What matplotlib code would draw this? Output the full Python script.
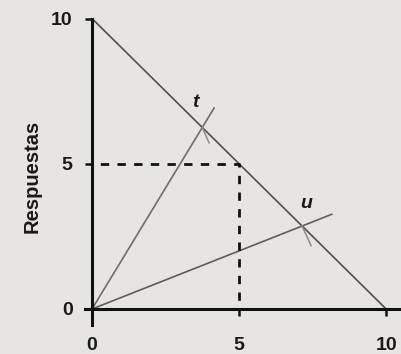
import matplotlib
matplotlib.use("Agg")
import matplotlib.pyplot as plt

# Recta de restricción y rayos de respuesta
budget_x = [0, 10]
budget_y = [10, 0]
t_x = [0, 4.15]
t_y = [0, 6.92]
u_x = [0, 8.15]
u_y = [0, 3.26]
# trazos cortos bajo cada punto de corte
t_seg_x = [3.75, 3.98]
t_seg_y = [6.25, 5.72]
u_seg_x = [7.14, 7.45]
u_seg_y = [2.86, 2.18]
# referencia discontinua en (5, 5)
ref_x = [0, 5, 5]
ref_y = [5, 5, 0]
ticks = [0, 5, 10]
tick_labels = ["0", "5", "10"]

plt.rcParams["font.family"] = ["Liberation Sans", "DejaVu Sans"]
plt.rcParams["lines.scale_dashes"] = False

bg = "#e7e5e2"
fig = plt.figure(figsize=(4.02, 3.54), dpi=100, facecolor=bg)
ax = fig.add_axes([0, 0, 1, 1], facecolor=bg)
ax.set_xlim(-3.13, 10.54)
ax.set_ylim(-1.55, 10.64)

ax.plot(budget_x, budget_y, color="#505050", lw=1.2, solid_capstyle="butt")
ax.plot(t_x, t_y, color="#6e6e6e", lw=1.2)
ax.plot(u_x, u_y, color="#5e5e5e", lw=1.2)
ax.plot(t_seg_x, t_seg_y, color="#8c8c8c", lw=1.1)
ax.plot(u_seg_x, u_seg_y, color="#8c8c8c", lw=1.1)
ax.plot(ref_x, ref_y, color="#111111", lw=2.0, linestyle=(6, (6, 6)))

ax.text(3.5, 7.1, "t", fontsize=14, fontweight="bold", style="italic",
        ha="center", va="center", color="#1a1a1a")
ax.text(7.27, 3.62, "u", fontsize=14, fontweight="bold", style="italic",
        ha="center", va="center", color="#1a1a1a")
ax.text(-2.05, 4.55, "Respuestas", rotation=90, fontsize=14.5, fontweight="bold",
        ha="center", va="center", color="#1a1a1a")

for side in ("top", "right"):
    ax.spines[side].set_visible(False)
for side in ("left", "bottom"):
    ax.spines[side].set_position(("data", 0))
    ax.spines[side].set_linewidth(2.2)
    ax.spines[side].set_color("#111111")
ax.spines["left"].set_bounds(-0.55, 10)
ax.spines["bottom"].set_bounds(-0.25, 10.6)

ax.set_xticks(ticks)
ax.set_xticklabels(tick_labels)
ax.set_yticks(ticks)
ax.set_yticklabels(tick_labels)
ax.tick_params(axis="both", direction="out", length=5, width=1.8,
               color="#111111", labelsize=14, labelcolor="#1a1a1a")
ax.tick_params(axis="x", pad=15)
ax.tick_params(axis="y", pad=9)
for lab in ax.get_xticklabels() + ax.get_yticklabels():
    lab.set_fontweight("bold")

fig.savefig("out.png", dpi=100, facecolor=bg)
